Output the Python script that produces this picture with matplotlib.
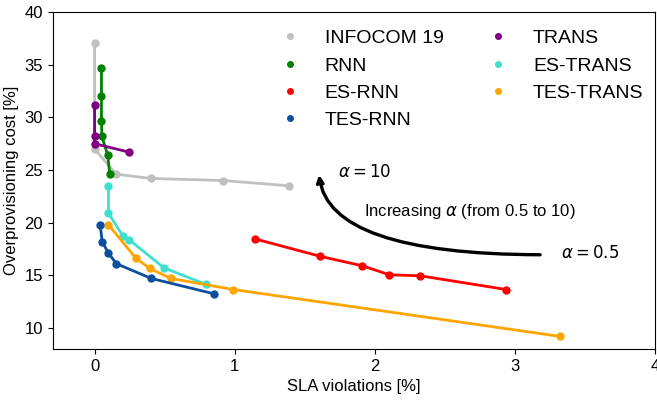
import matplotlib.pyplot as plt
from matplotlib.lines import Line2D

plt.rcParams["font.family"] = ["Liberation Sans", "DejaVu Sans"]

# SLA violations [%] / overprovisioning cost [%] per model
infocom_x = [0.0, 0.0, 0.155, 0.40, 0.92, 1.39]
infocom_y = [37.1, 27.0, 24.6, 24.2, 24.0, 23.5]

rnn_x = [0.049, 0.049, 0.049, 0.052, 0.094, 0.108]
rnn_y = [34.7, 32.0, 29.7, 28.2, 26.4, 24.6]

trans_x = [0.0, 0.0, 0.0, 0.246]
trans_y = [31.2, 28.2, 27.5, 26.7]

es_rnn_x = [1.147, 1.611, 1.912, 2.104, 2.325, 2.938]
es_rnn_y = [18.45, 16.8, 15.9, 15.05, 14.95, 13.65]

tes_rnn_x = [0.04, 0.054, 0.099, 0.156, 0.405, 0.85]
tes_rnn_y = [19.8, 18.2, 17.1, 16.1, 14.7, 13.25]

es_trans_x = [0.099, 0.099, 0.201, 0.249, 0.496, 0.793]
es_trans_y = [23.5, 20.9, 18.75, 18.35, 15.7, 14.15]

tes_trans_x = [0.099, 0.296, 0.394, 0.544, 0.99, 3.32]
tes_trans_y = [19.8, 16.6, 15.65, 14.7, 13.65, 9.2]

series = [
    ("INFOCOM 19", infocom_x, infocom_y, "#c0c0c0"),
    ("RNN", rnn_x, rnn_y, "green"),
    ("ES-RNN", es_rnn_x, es_rnn_y, "red"),
    ("TES-RNN", tes_rnn_x, tes_rnn_y, "#0b4f9e"),
    ("TRANS", trans_x, trans_y, "purple"),
    ("ES-TRANS", es_trans_x, es_trans_y, "#40e0d0"),
    ("TES-TRANS", tes_trans_x, tes_trans_y, "orange"),
]
draw_order = ["INFOCOM 19", "RNN", "TRANS", "ES-RNN", "ES-TRANS", "TES-TRANS", "TES-RNN"]

fig = plt.figure(figsize=(6.57, 4.03), dpi=100)
ax = fig.add_axes([0.080, 0.134, 0.917, 0.836])

lookup = {name: (x, y, c) for name, x, y, c in series}
for name in draw_order:
    x, y, c = lookup[name]
    ax.plot(x, y, color=c, lw=2, marker="o", ms=5)

handles = [Line2D([], [], color=c, marker="o", ls="none", ms=4) for _, _, _, c in series]
labels = [name for name, _, _, _ in series]
ax.legend(handles, labels, ncol=2, frameon=False, fontsize=14, loc="upper right",
          bbox_to_anchor=(1.01, 1.0), labelspacing=0.5, columnspacing=1.8)

ax.annotate("", xy=(1.6, 24.8), xytext=(3.2, 16.95),
            arrowprops=dict(arrowstyle="->", color="black", lw=2.4,
                            connectionstyle="angle3,angleA=0,angleB=95"))
ax.text(1.74, 24.9, r"$\alpha = 10$", fontsize=12, va="center")
ax.text(3.33, 17.15, r"$\alpha = 0.5$", fontsize=12, va="center")
ax.text(1.92, 21.05, r"Increasing $\alpha$ (from 0.5 to 10)", fontsize=12, va="center")

ax.set_xlim(-0.3, 4)
ax.set_ylim(8, 40)
ax.set_xticks([0, 1, 2, 3, 4])
ax.set_yticks([10, 15, 20, 25, 30, 35, 40])
ax.tick_params(labelsize=12)
ax.set_xlabel("SLA violations [%]", fontsize=12)
ax.set_ylabel("Overprovisioning cost [%]", fontsize=12)

fig.savefig("out.png", dpi=100)
